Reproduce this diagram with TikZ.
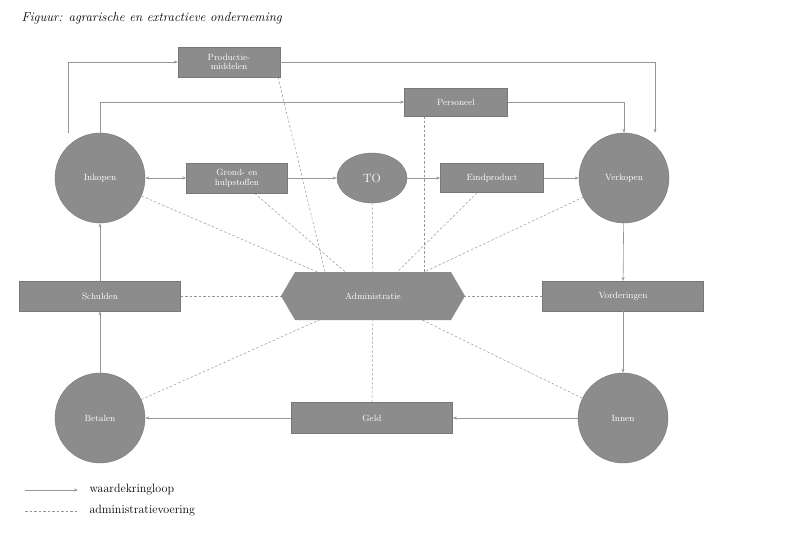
\documentclass[tikz,border=0pt]{standalone}
\usetikzlibrary{arrows.meta,backgrounds,shapes.geometric}
\definecolor{boxg}{RGB}{140,140,140}
\definecolor{lineg}{RGB}{150,150,150}
\begin{document}
\begin{tikzpicture}[x=1pt,y=-1pt,
  box/.style={draw=boxg!85!black,fill=boxg,text=white,font=\fontsize{9}{9.5}\selectfont,align=center,inner sep=0pt},
  circ/.style={circle,draw=boxg!85!black,fill=boxg,text=white,minimum size=90pt,inner sep=0pt,font=\fontsize{9}{10}\selectfont},
  flow/.style={draw=lineg,line width=0.6pt,-{Stealth[length=4pt,width=3pt]}},
  adm/.style={draw=lineg,line width=0.5pt,dash pattern=on 2.5pt off 2pt}]
\useasboundingbox (0,0) rectangle (800,541);
\node[anchor=west,font=\fontsize{13}{14}\selectfont\itshape] (title) at (18,18) {Figuur: agrarische en extractieve onderneming};
\node[box,minimum width=102pt,minimum height=30pt] (prod) at (229,62) {Productie-\\middelen};
\node[box,minimum width=103pt,minimum height=28pt] (pers) at (456,102) {Personeel};
\node[circ] (ink) at (100,178) {Inkopen};
\node[box,minimum width=101pt,minimum height=30pt] (grond) at (237,178) {Grond- en\\hulpstoffen};
\node[ellipse,draw=boxg!85!black,fill=boxg,text=white,minimum width=70pt,minimum height=50pt,font=\fontsize{12}{12}\selectfont] (to) at (372,178) {TO};
\node[box,minimum width=103pt,minimum height=29pt] (eind) at (492,178) {Eindproduct};
\node[circ] (verk) at (624,178) {Verkopen};
\node[box,minimum width=161pt,minimum height=30pt] (sch) at (100,296) {Schulden};
\node[box,minimum width=161pt,minimum height=30pt] (vord) at (623,296) {Vorderingen};
\node[minimum width=184pt,minimum height=48pt,inner sep=0pt] (admn) at (373,296) {};
\fill[boxg] (281,296)--(295,272)--(451,272)--(465,296)--(451,320)--(295,320)--cycle;
\node[text=white,font=\fontsize{9}{10}\selectfont] (admt) at (373,296) {Administratie};
\node[circ] (bet) at (100,418) {Betalen};
\node[box,minimum width=161pt,minimum height=31pt] (geld) at (372,418) {Geld};
\node[circ] (inn) at (623,418) {Innen};
\coordinate (pa) at (325,272);
\coordinate (pb) at (278,77);
\coordinate (qa) at (424,272);
\coordinate (qb) at (424,116);
\begin{scope}[on background layer]
\draw[adm] (pb)--(pa);
\draw[adm] (qb)--(qa);
\foreach \n in {ink,grond,to,eind,verk,sch,vord,bet,geld,inn} \draw[adm] (\n)--(admn.center);
\end{scope}
\draw[flow] ([xshift=-32pt]ink.north) |- (prod.west);
\draw[flow] (prod.east) -| ([xshift=31pt]verk.north);
\draw[flow] (ink.north) |- (pers.west);
\draw[flow] (pers.east) -| (verk.north);
\draw[flow,{Stealth[length=4pt,width=3pt]}-{Stealth[length=4pt,width=3pt]}] (ink)--(grond);
\draw[flow] (grond)--(to);
\draw[flow] (to)--(eind);
\draw[flow] (eind)--(verk);
\draw[flow] (verk)--(vord);
\draw[flow] (vord)--(inn);
\draw[flow] (inn)--(geld);
\draw[flow] (geld)--(bet);
\draw[flow] (bet)--(sch);
\draw[flow] (sch)--(ink);
\coordinate (l1) at (25,490); \coordinate (l2) at (78,490);
\coordinate (l3) at (25,511); \coordinate (l4) at (78,511);
\draw[flow] (l1)--(l2);
\draw[adm] (l3)--(l4);
\node[anchor=west,font=\fontsize{12}{12}\selectfont] (lt1) at (86,490) {waardekringloop};
\node[anchor=west,font=\fontsize{12}{12}\selectfont] (lt2) at (86,511) {administratievoering};
\end{tikzpicture}
\end{document}
